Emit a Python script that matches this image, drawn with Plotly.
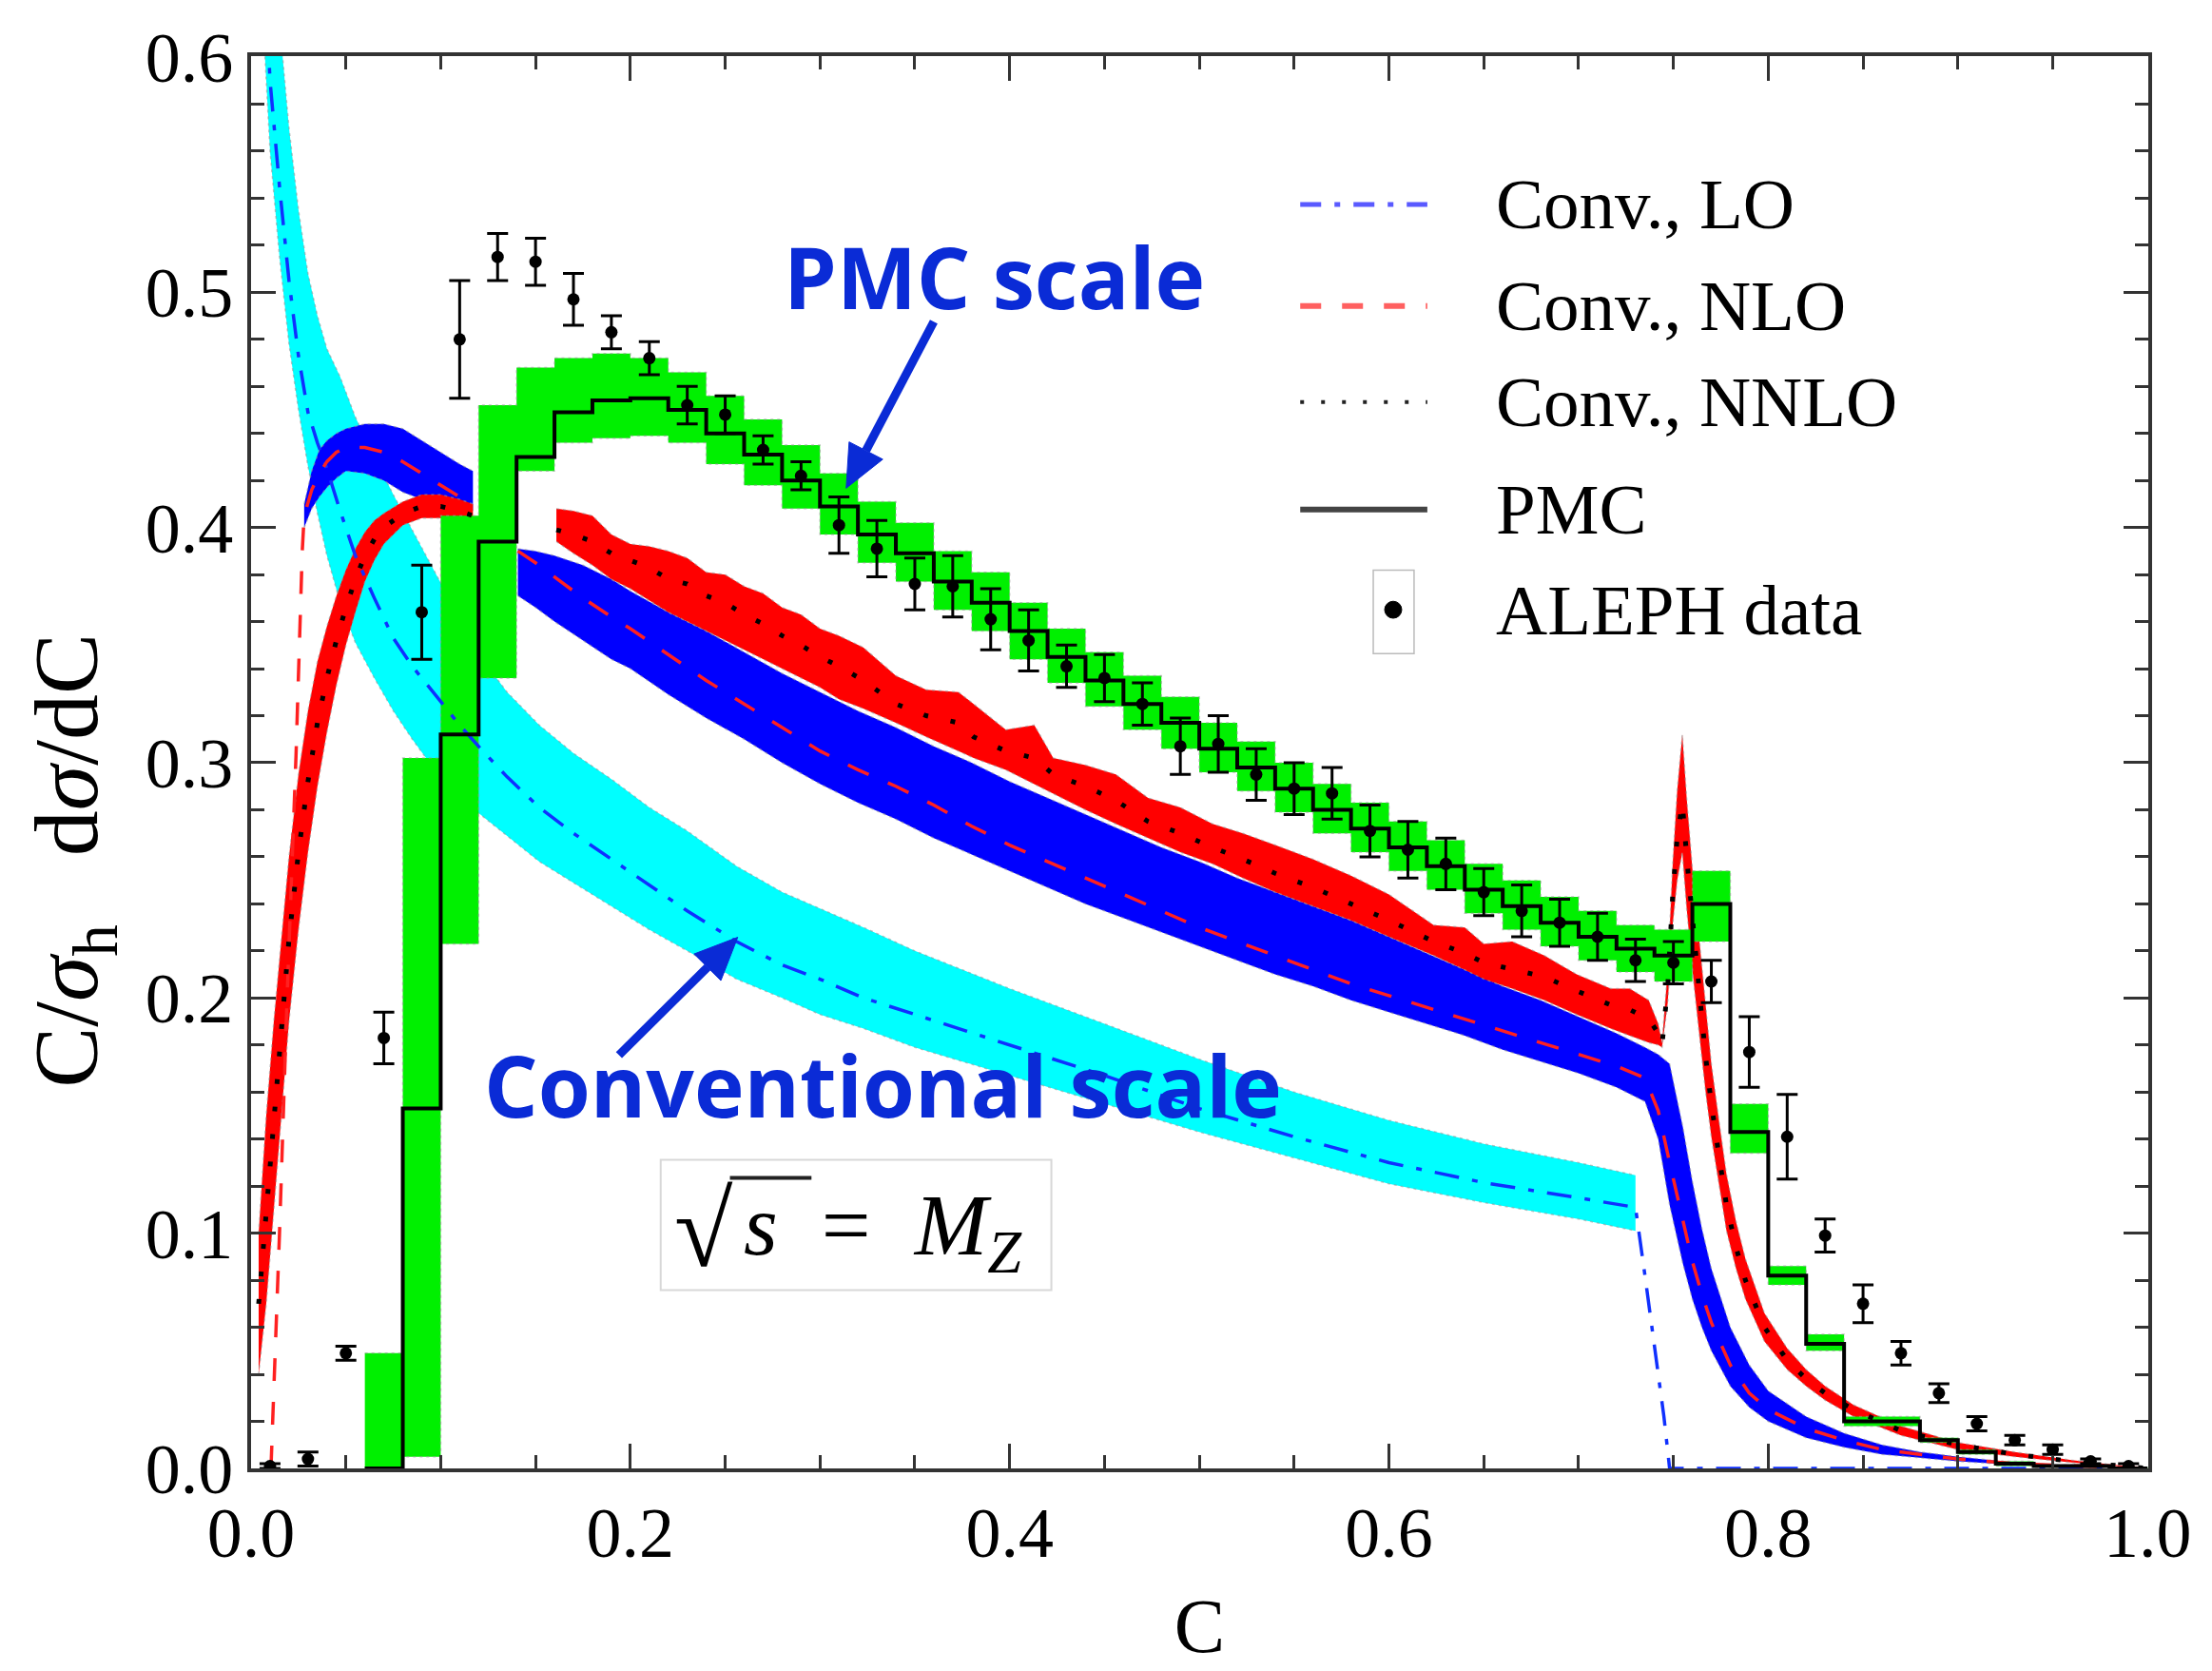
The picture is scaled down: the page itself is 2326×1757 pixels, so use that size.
import numpy as np
import plotly.graph_objects as go

# ---------------- data ----------------
# ALEPH data (bin centres, value, error)
aleph_c = [0.01, 0.03, 0.05, 0.07, 0.09, 0.11, 0.13, 0.15, 0.17, 0.19,
           0.21, 0.23, 0.25, 0.27, 0.29, 0.31, 0.33, 0.35, 0.37, 0.39,
           0.41, 0.43, 0.45, 0.47, 0.49, 0.51, 0.53, 0.55, 0.57, 0.59,
           0.61, 0.63, 0.65, 0.67, 0.69, 0.71, 0.73, 0.75, 0.77, 0.79,
           0.81, 0.83, 0.85, 0.87, 0.89, 0.91, 0.93, 0.95, 0.97, 0.99]
aleph_v = [0.001, 0.004, 0.049, 0.183, 0.364, 0.480, 0.515, 0.513, 0.497, 0.483,
           0.472, 0.452, 0.448, 0.433, 0.422, 0.401, 0.391, 0.376, 0.375, 0.361,
           0.352, 0.341, 0.336, 0.325, 0.307, 0.308, 0.295, 0.289, 0.287, 0.271,
           0.263, 0.257, 0.245, 0.237, 0.232, 0.226, 0.216, 0.215, 0.207, 0.177,
           0.141, 0.099, 0.070, 0.049, 0.032, 0.019, 0.012, 0.008, 0.003, 0.001]
aleph_err = [0.001, 0.003, 0.003, 0.011, 0.020, 0.025, 0.010, 0.010, 0.011, 0.007,
             0.007, 0.008, 0.008, 0.006, 0.006, 0.012, 0.012, 0.011, 0.013, 0.013,
             0.013, 0.009, 0.010, 0.009, 0.012, 0.012, 0.011, 0.011, 0.011, 0.011,
             0.012, 0.011, 0.010, 0.011, 0.010, 0.010, 0.009, 0.009, 0.009, 0.015,
             0.018, 0.007, 0.008, 0.005, 0.004, 0.003, 0.002, 0.002, 0.001, 0.001]

# PMC histogram (bin edges, central value, band)
pmc_edges = [0.06, 0.08, 0.10, 0.12, 0.14, 0.16, 0.18, 0.20, 0.22, 0.24,
             0.26, 0.28, 0.30, 0.32, 0.34, 0.36, 0.38, 0.40, 0.42, 0.44,
             0.46, 0.48, 0.50, 0.52, 0.54, 0.56, 0.58, 0.60, 0.62, 0.64,
             0.66, 0.68, 0.70, 0.72, 0.74, 0.76, 0.78, 0.80, 0.82, 0.84,
             0.86, 0.88, 0.90, 0.92, 0.94, 0.96, 0.98, 1.00]
pmc_v = [0.000, 0.153, 0.312, 0.394, 0.430, 0.449, 0.454, 0.455, 0.450, 0.440,
         0.431, 0.420, 0.409, 0.397, 0.389, 0.377, 0.368, 0.356, 0.345, 0.335,
         0.325, 0.317, 0.306, 0.298, 0.289, 0.280, 0.272, 0.264, 0.256, 0.246,
         0.239, 0.232, 0.226, 0.221, 0.218, 0.240, 0.143, 0.082, 0.053, 0.020,
         0.020, 0.012, 0.007, 0.002, 0.001, 0.001, 0.000]
pmc_hi = [0.049, 0.302, 0.405, 0.452, 0.468, 0.472, 0.474, 0.472, 0.466, 0.456,
          0.446, 0.435, 0.423, 0.411, 0.402, 0.390, 0.381, 0.368, 0.357, 0.347,
          0.337, 0.328, 0.317, 0.309, 0.300, 0.291, 0.283, 0.275, 0.267, 0.257,
          0.250, 0.243, 0.237, 0.231, 0.229, 0.254, 0.155, 0.086, 0.057, 0.022,
          0.022, 0.013, 0.008, 0.003, 0.0015, 0.0015, 0.0005]
pmc_lo = [0.000, 0.005, 0.223, 0.336, 0.424, 0.436, 0.438, 0.439, 0.436, 0.427,
          0.418, 0.408, 0.397, 0.385, 0.377, 0.365, 0.356, 0.344, 0.334, 0.324,
          0.314, 0.306, 0.296, 0.288, 0.279, 0.270, 0.262, 0.254, 0.246, 0.236,
          0.229, 0.222, 0.216, 0.211, 0.207, 0.224, 0.134, 0.078, 0.050, 0.018,
          0.018, 0.011, 0.006, 0.001, 0.0005, 0.0005, 0.000]

# Conventional LO (cyan band, dash-dot centre)
lo_c = [0.006, 0.010, 0.015, 0.020, 0.025, 0.030, 0.035, 0.040, 0.047, 0.055,
        0.065, 0.075, 0.085, 0.095, 0.110, 0.121, 0.135, 0.152, 0.170, 0.190,
        0.210, 0.230, 0.256, 0.280, 0.300, 0.323, 0.350, 0.400, 0.450, 0.500,
        0.550, 0.600, 0.650, 0.700, 0.730]
lo_v = [0.660, 0.590, 0.545, 0.505, 0.473, 0.449, 0.436, 0.425, 0.407, 0.388,
        0.370, 0.353, 0.341, 0.331, 0.316, 0.306, 0.294, 0.281, 0.270, 0.259,
        0.248, 0.237, 0.224, 0.214, 0.208, 0.200, 0.193, 0.180, 0.167, 0.153,
        0.141, 0.130, 0.1215, 0.115, 0.111]
lo_hi = [0.720, 0.660, 0.615, 0.570, 0.535, 0.508, 0.490, 0.476, 0.464, 0.447,
         0.430, 0.414, 0.399, 0.384, 0.362, 0.345, 0.330, 0.316, 0.304, 0.293,
         0.281, 0.271, 0.256, 0.245, 0.238, 0.230, 0.220, 0.204, 0.189, 0.174,
         0.160, 0.148, 0.138, 0.130, 0.1246]
lo_lo = [0.620, 0.560, 0.515, 0.478, 0.450, 0.426, 0.406, 0.388, 0.368, 0.351,
         0.336, 0.322, 0.310, 0.299, 0.285, 0.278, 0.269, 0.258, 0.249, 0.239,
         0.229, 0.220, 0.208, 0.200, 0.193, 0.187, 0.179, 0.167, 0.155, 0.143,
         0.132, 0.121, 0.113, 0.106, 0.101]
lo_tail_c = [0.735, 0.740, 0.745, 0.748, 1.000]
lo_tail_v = [0.082, 0.052, 0.022, 0.000, 0.000]

# Conventional NLO (blue band, red dashed centre) -- low-C piece
nlo1_c = [0.028, 0.032, 0.036, 0.040, 0.045, 0.050, 0.060, 0.070, 0.080, 0.090,
          0.100, 0.110, 0.117]
nlo1_v = [0.405, 0.416, 0.423, 0.428, 0.432, 0.434, 0.434, 0.432, 0.428, 0.423,
          0.418, 0.413, 0.409]
nlo1_hi = [0.410, 0.424, 0.433, 0.437, 0.440, 0.442, 0.444, 0.444, 0.442, 0.437,
           0.432, 0.427, 0.424]
nlo1_lo = [0.400, 0.408, 0.413, 0.417, 0.421, 0.424, 0.423, 0.420, 0.415, 0.412,
           0.410, 0.408, 0.407]
nlo_rise_c = [0.0105, 0.015, 0.019, 0.0237, 0.027]
nlo_rise_v = [0.000, 0.100, 0.200, 0.303, 0.390]
# NLO main piece
nlo2_c = [0.1407, 0.150, 0.160, 0.175, 0.190, 0.200, 0.220, 0.240, 0.260, 0.280,
          0.300, 0.320, 0.340, 0.360, 0.380, 0.400, 0.420, 0.440, 0.460, 0.480,
          0.500, 0.520, 0.540, 0.560, 0.580, 0.600, 0.620, 0.640, 0.660, 0.680,
          0.700, 0.720, 0.735, 0.742, 0.748, 0.755, 0.760, 0.765, 0.770, 0.780,
          0.790, 0.800, 0.820, 0.840, 0.860, 0.880, 0.900, 0.930, 0.960, 1.000]
nlo2_v = [0.390, 0.385, 0.379, 0.370, 0.362, 0.357, 0.346, 0.335, 0.325, 0.315,
          0.305, 0.297, 0.290, 0.282, 0.273, 0.265, 0.258, 0.251, 0.244, 0.237,
          0.230, 0.224, 0.218, 0.212, 0.206, 0.201, 0.196, 0.191, 0.186, 0.181,
          0.176, 0.171, 0.166, 0.152, 0.130, 0.105, 0.088, 0.074, 0.062, 0.044,
          0.032, 0.025, 0.017, 0.012, 0.008, 0.006, 0.004, 0.002, 0.001, 0.000]
nlo2_hi = [0.391, 0.390, 0.388, 0.384, 0.378, 0.373, 0.364, 0.356, 0.347, 0.338,
           0.330, 0.322, 0.315, 0.307, 0.300, 0.292, 0.285, 0.278, 0.271, 0.264,
           0.258, 0.251, 0.245, 0.239, 0.233, 0.226, 0.219, 0.212, 0.205, 0.199,
           0.192, 0.185, 0.179, 0.176, 0.172, 0.145, 0.122, 0.102, 0.085, 0.060,
           0.044, 0.033, 0.022, 0.015, 0.010, 0.007, 0.005, 0.0025, 0.0012, 0.000]
nlo2_lo = [0.371, 0.366, 0.360, 0.352, 0.344, 0.340, 0.329, 0.319, 0.310, 0.300,
           0.291, 0.283, 0.276, 0.268, 0.261, 0.254, 0.247, 0.240, 0.234, 0.228,
           0.222, 0.216, 0.210, 0.205, 0.199, 0.194, 0.189, 0.184, 0.178, 0.173,
           0.168, 0.162, 0.156, 0.140, 0.112, 0.087, 0.072, 0.060, 0.050, 0.035,
           0.026, 0.020, 0.013, 0.009, 0.006, 0.0045, 0.003, 0.0015, 0.0008, 0.000]

# Conventional NNLO (red band, dotted centre) -- low-C piece
nnlo1_c = [0.004, 0.008, 0.012, 0.016, 0.020, 0.025, 0.030, 0.035, 0.040, 0.045,
           0.050, 0.055, 0.060, 0.065, 0.070, 0.080, 0.090, 0.100, 0.110, 0.117]
nnlo1_v = [0.070, 0.110, 0.150, 0.190, 0.225, 0.262, 0.292, 0.317, 0.336, 0.352,
           0.366, 0.378, 0.388, 0.395, 0.400, 0.406, 0.409, 0.409, 0.407, 0.405]
nnlo1_hi = [0.100, 0.150, 0.190, 0.225, 0.260, 0.295, 0.322, 0.343, 0.358, 0.371,
            0.382, 0.391, 0.398, 0.403, 0.406, 0.411, 0.414, 0.414, 0.412, 0.410]
nnlo1_lo = [0.040, 0.070, 0.110, 0.150, 0.190, 0.229, 0.262, 0.290, 0.313, 0.333,
            0.350, 0.364, 0.377, 0.386, 0.393, 0.401, 0.404, 0.404, 0.402, 0.400]
# NNLO main piece (incl. spike and tail)
nnlo2_c = [0.161, 0.170, 0.180, 0.190, 0.200, 0.210, 0.220, 0.230, 0.240, 0.250,
           0.260, 0.270, 0.280, 0.290, 0.300, 0.310, 0.3228, 0.340, 0.356, 0.373,
           0.381, 0.398, 0.413, 0.423, 0.440, 0.456, 0.473, 0.490, 0.507, 0.523,
           0.540, 0.560, 0.580, 0.600, 0.6236, 0.640, 0.650, 0.665, 0.682, 0.699,
           0.717, 0.727, 0.737, 0.742, 0.744, 0.747, 0.7497, 0.752, 0.7547, 0.757,
           0.760, 0.764, 0.767, 0.770, 0.774, 0.778, 0.783, 0.788, 0.798, 0.810,
           0.820, 0.830, 0.845, 0.870, 0.900, 0.930, 0.960, 1.000]
nnlo2_v = [0.399, 0.397, 0.394, 0.389, 0.386, 0.383, 0.378, 0.376, 0.371, 0.368,
           0.363, 0.359, 0.354, 0.350, 0.345, 0.341, 0.335, 0.325, 0.320, 0.317,
           0.311, 0.305, 0.302, 0.295, 0.290, 0.284, 0.275, 0.270, 0.264, 0.259,
           0.253, 0.247, 0.240, 0.233, 0.224, 0.219, 0.215, 0.212, 0.209, 0.203,
           0.197, 0.195, 0.191, 0.185, 0.180, 0.205, 0.245, 0.268, 0.283, 0.260,
           0.232, 0.200, 0.175, 0.155, 0.133, 0.112, 0.094, 0.080, 0.060, 0.046,
           0.038, 0.032, 0.025, 0.016, 0.010, 0.006, 0.003, 0.000]
nnlo2_hi = [0.408, 0.407, 0.405, 0.397, 0.393, 0.392, 0.390, 0.387, 0.381, 0.380,
            0.375, 0.372, 0.366, 0.363, 0.357, 0.354, 0.349, 0.337, 0.331, 0.330,
            0.325, 0.314, 0.316, 0.302, 0.299, 0.295, 0.285, 0.281, 0.274, 0.270,
            0.265, 0.259, 0.252, 0.244, 0.231, 0.230, 0.223, 0.224, 0.218, 0.210,
            0.204, 0.204, 0.199, 0.189, 0.181, 0.212, 0.258, 0.288, 0.312, 0.285,
            0.255, 0.222, 0.196, 0.172, 0.148, 0.125, 0.105, 0.089, 0.066, 0.051,
            0.042, 0.035, 0.027, 0.018, 0.011, 0.007, 0.0035, 0.000]
nnlo2_lo = [0.394, 0.389, 0.384, 0.378, 0.374, 0.369, 0.364, 0.360, 0.356, 0.352,
            0.348, 0.344, 0.340, 0.336, 0.332, 0.327, 0.323, 0.317, 0.311, 0.305,
            0.302, 0.297, 0.291, 0.287, 0.280, 0.274, 0.268, 0.262, 0.257, 0.251,
            0.245, 0.239, 0.233, 0.226, 0.218, 0.212, 0.208, 0.204, 0.199, 0.193,
            0.187, 0.184, 0.181, 0.180, 0.179, 0.198, 0.232, 0.250, 0.262, 0.238,
            0.212, 0.182, 0.160, 0.141, 0.121, 0.101, 0.085, 0.072, 0.054, 0.042,
            0.035, 0.029, 0.022, 0.014, 0.008, 0.005, 0.0025, 0.000]

legend_labels = ["Conv., LO", "Conv., NLO", "Conv., NNLO", "PMC", "ALEPH data"]
x_ticks = [0.0, 0.2, 0.4, 0.6, 0.8, 1.0]
y_ticks = [0.0, 0.1, 0.2, 0.3, 0.4, 0.5, 0.6]

# ---------------- styles ----------------
CYAN = "#00ffff"
BLUE = "#0000ff"
RED = "#ff0000"
GREEN = "#00f000"
EDGE = dict(color="rgba(150,150,150,0.55)", width=1.5, dash="3px,4px")
SERIF = "Liberation Serif"
ANNOT_BLUE = "#0a2bd6"
NBSP = "\u00a0"

fig = go.Figure()


def band(x, lo, hi, color):
    fig.add_trace(go.Scatter(x=x, y=lo, mode="lines", line=EDGE,
                             showlegend=False, hoverinfo="skip"))
    fig.add_trace(go.Scatter(x=x, y=hi, mode="lines", line=EDGE,
                             fill="tonexty", fillcolor=color,
                             showlegend=False, hoverinfo="skip"))


# bands (back to front)
band(lo_c, lo_lo, lo_hi, CYAN)
band(nlo1_c, nlo1_lo, nlo1_hi, BLUE)
band(nlo2_c, nlo2_lo, nlo2_hi, BLUE)
band(nnlo1_c, nnlo1_lo, nnlo1_hi, RED)
band(nnlo2_c, nnlo2_lo, nnlo2_hi, RED)

# PMC step band
edges = np.array(pmc_edges)
step_x = np.repeat(edges, 2)[1:-1]
band(step_x, np.repeat(pmc_lo, 2), np.repeat(pmc_hi, 2), GREEN)

# central lines
fig.add_trace(go.Scatter(x=lo_c + lo_tail_c, y=lo_v + lo_tail_v, mode="lines",
                         line=dict(color="#1030ff", width=3.5, dash="26px,14px,6px,14px"),
                         name=legend_labels[0], showlegend=False))
fig.add_trace(go.Scatter(x=nlo_rise_c + nlo1_c, y=nlo_rise_v + nlo1_v, mode="lines",
                         line=dict(color="#ff2020", width=3.5, dash="24px,22px"),
                         name=legend_labels[1], showlegend=False))
fig.add_trace(go.Scatter(x=nlo2_c, y=nlo2_v, mode="lines",
                         line=dict(color="#ff2020", width=3.5, dash="24px,22px"),
                         name=legend_labels[1], showlegend=False))
fig.add_trace(go.Scatter(x=nnlo1_c, y=nnlo1_v, mode="lines",
                         line=dict(color="black", width=5, dash="5px,24px"),
                         name=legend_labels[2], showlegend=False))
fig.add_trace(go.Scatter(x=nnlo2_c, y=nnlo2_v, mode="lines",
                         line=dict(color="black", width=5, dash="5px,24px"),
                         name=legend_labels[2], showlegend=False))
fig.add_trace(go.Scatter(x=step_x, y=np.repeat(pmc_v, 2), mode="lines",
                         line=dict(color="black", width=4),
                         name=legend_labels[3], showlegend=False))

# data
fig.add_trace(go.Scatter(x=aleph_c, y=aleph_v, mode="markers",
                         marker=dict(color="black", size=13),
                         error_y=dict(type="data", array=aleph_err, visible=True,
                                      color="black", thickness=3, width=11),
                         name=legend_labels[4], showlegend=False))

# ---------------- manual legend ----------------
rows_y = [0.895, 0.823, 0.755, 0.679, 0.608]
lx0, lx1, ltx = 0.553, 0.620, 0.655
sample_styles = [dict(color="#5a5aff", width=5, dash="22px,14px,6px,14px"),
                 dict(color="#ff6060", width=6, dash="22px,22px"),
                 dict(color="#222222", width=4, dash="4px,18px"),
                 dict(color="#444444", width=6)]
shapes = []
for ry, st in zip(rows_y[:4], sample_styles):
    shapes.append(dict(type="line", xref="paper", yref="paper", x0=lx0, x1=lx1,
                       y0=ry, y1=ry, line=st))
shapes.append(dict(type="rect", xref="paper", yref="paper", x0=0.5915, x1=0.613,
                   y0=0.577, y1=0.636, line=dict(color="#bbbbbb", width=1.5)))
shapes.append(dict(type="circle", xref="paper", yref="paper", x0=0.5975, x1=0.6065,
                   y0=0.602, y1=0.614, fillcolor="black", line=dict(color="black", width=1)))
# box around the sqrt(s) = M_Z label and the vinculum of the root
shapes.append(dict(type="rect", xref="x", yref="y", x0=0.216, x1=0.422,
                   y0=0.0758, y1=0.1312, line=dict(color="#d8d8d8", width=2)))
shapes.append(dict(type="line", xref="x", yref="y", x0=0.2525, x1=0.2955,
                   y0=0.1235, y1=0.1235, line=dict(color="#222222", width=4)))
# pointer arrows (shaft + filled head)
shapes.append(dict(type="line", xref="x", yref="y", x0=0.36, y0=0.4875,
                   x1=0.3242, y1=0.4327, line=dict(color=ANNOT_BLUE, width=9)))
shapes.append(dict(type="path", xref="x", yref="y",
                   path="M 0.3138 0.4167 L 0.3331 0.4290 L 0.31535 0.4364 Z",
                   fillcolor=ANNOT_BLUE, line=dict(color=ANNOT_BLUE, width=1)))
shapes.append(dict(type="line", xref="x", yref="y", x0=0.194, y0=0.1757,
                   x1=0.24065, y1=0.21304, line=dict(color=ANNOT_BLUE, width=9)))
shapes.append(dict(type="path", xref="x", yref="y",
                   path="M 0.2566 0.2258 L 0.24773 0.20739 L 0.23359 0.2187 Z",
                   fillcolor=ANNOT_BLUE, line=dict(color=ANNOT_BLUE, width=1)))

annotations = []
for ry, lab in zip(rows_y, legend_labels):
    annotations.append(dict(xref="paper", yref="paper", x=ltx, y=ry, text=lab,
                            showarrow=False, xanchor="left", yanchor="middle",
                            font=dict(family=SERIF, size=75, color="black")))

annotations += [
    dict(x=0.392, y=0.507, xref="x", yref="y", text="<b>PMC scale</b>", showarrow=False,
         font=dict(family="Open Sans", size=89, color=ANNOT_BLUE)),
    dict(x=0.333, y=0.163, xref="x", yref="y", text="<b>Conventional scale</b>",
         showarrow=False, font=dict(family="Open Sans", size=89, color=ANNOT_BLUE)),
    dict(x=0.2386, y=0.1015, xref="x", yref="y", text="√", showarrow=False,
         font=dict(family=SERIF, size=112, color="black")),
    dict(x=0.2585, y=0.1010, xref="x", yref="y", xanchor="left",
         text="<i>s</i>  =  <i>M</i><sub><i>Z</i></sub>", showarrow=False,
         font=dict(family=SERIF, size=92, color="black")),
    dict(x=-0.0937, y=0.4305, xref="paper", yref="paper", textangle=-90,
         xanchor="center", yanchor="middle",
         text="C/<i>σ</i><sub>h</sub>" + NBSP * 3 + "d<i>σ</i>/dC", showarrow=False,
         font=dict(family=SERIF, size=96, color="black")),
]

axis_common = dict(showline=True, linewidth=4, linecolor="#333333", mirror="ticks",
                   ticks="inside", ticklen=26, tickwidth=3, tickcolor="#333333",
                   showgrid=False, zeroline=False, tickformat=".1f",
                   tickfont=dict(family=SERIF, size=74, color="black"))

fig.update_layout(
    width=2326, height=1757,
    margin=dict(l=256, r=75, t=40, b=221),
    paper_bgcolor="white", plot_bgcolor="white",
    showlegend=False,
    shapes=shapes, annotations=annotations,
    xaxis=dict(range=[0, 1.0004], tickmode="array", tickvals=x_ticks,
               minor=dict(dtick=0.05, tick0=0, ticklen=14, tickwidth=3, ticks="inside",
                          tickcolor="#333333"),
               title=dict(text="C", font=dict(family=SERIF, size=80, color="black"),
                          standoff=30),
               **axis_common),
    yaxis=dict(range=[0, 0.6004], tickmode="array", tickvals=y_ticks,
               minor=dict(dtick=0.02, tick0=0, ticklen=14, tickwidth=3, ticks="inside",
                          tickcolor="#333333"),
               **axis_common),
)

fig.write_html("out.html")
